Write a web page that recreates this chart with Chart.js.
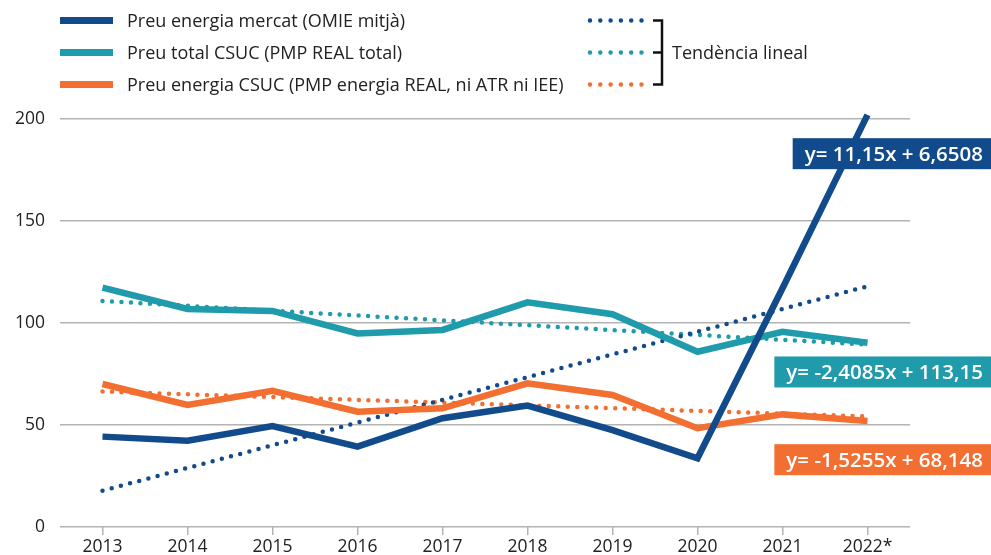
<!DOCTYPE html>
<html>
<head>
<meta charset="utf-8">
<script src="https://cdn.jsdelivr.net/npm/chart.js@4"></script>
<style>
  body { margin: 0; background: #fff; }
  #wrap { width: 991px; height: 555px; position: relative; }
</style>
</head>
<body>
<div id="wrap"><canvas id="preusChart"></canvas></div>
<script>
const years = ["2013", "2014", "2015", "2016", "2017", "2018", "2019", "2020", "2021", "2022*"];

const omieMitja = [44.3, 42.3, 49.5, 39.4, 53.3, 59.5, 47.5, 33.7, 117, 202];
const csucTotal = [117.3, 106.9, 105.9, 94.9, 96.6, 110.1, 104.3, 85.9, 95.7, 90.3];
const csucEnergia = [70.1, 59.8, 66.8, 56.5, 58.2, 70.4, 64.7, 48.4, 55.2, 52.0];

// trend lines: value read at 2013 and at 2022*, the rest left empty
const omieTrend = [17.8, null, null, null, null, null, null, null, null, 118];
const totalTrend = [110.8, null, null, null, null, null, null, null, null, 89.4];
const energiaTrend = [66.4, null, null, null, null, null, null, null, null, 54.2];

const seriesNames = [
    "Preu energia mercat (OMIE mitjà)",
    "Preu total CSUC (PMP REAL total)",
    "Preu energia CSUC (PMP energia REAL, ni ATR ni IEE)"
];
const trendLabel = "Tendència lineal";
const equations = ["y= 11,15x + 6,6508", "y= -2,4085x + 113,15", "y= -1,5255x + 68,148"];
const equationAt = [183, 76, 33];

const colors = ["#124b8b", "#1f9bab", "#f26f31"];
const textColor = "#222222";
const gridColor = "#b3b3b3";
const fontFamily = "'Open Sans', 'Noto Sans', sans-serif";

function solid(data, color) {
    return {
        data: data,
        borderColor: color,
        borderWidth: 6.5,
        pointRadius: 0,
        tension: 0,
        clip: false,
        borderJoinStyle: "miter"
    };
}

function dotted(data, color) {
    return {
        data: data,
        borderColor: color,
        borderWidth: 4.5,
        borderDash: [0, 9.5],
        borderCapStyle: "round",
        pointRadius: 0,
        spanGaps: true,
        clip: false
    };
}

const legendPlugin = {
    id: "customLegend",
    afterDraw(chart) {
        const ctx = chart.ctx;
        const rows = [20.5, 52.5, 84.5];
        ctx.save();
        ctx.font = "18px " + fontFamily;
        ctx.textBaseline = "middle";
        rows.forEach((y, i) => {
            ctx.fillStyle = colors[i];
            ctx.fillRect(60, y - 3.5, 53, 7);
            ctx.fillStyle = textColor;
            ctx.fillText(seriesNames[i], 127, y + 1);

            ctx.beginPath();
            ctx.strokeStyle = colors[i];
            ctx.lineWidth = 4.5;
            ctx.lineCap = "round";
            ctx.setLineDash([0, 10.3]);
            ctx.moveTo(590, y);
            ctx.lineTo(642, y);
            ctx.stroke();
        });

        ctx.setLineDash([]);
        ctx.lineCap = "butt";
        ctx.strokeStyle = "#111";
        ctx.lineWidth = 2.5;
        ctx.beginPath();
        ctx.moveTo(653, rows[0]);
        ctx.lineTo(662, rows[0]);
        ctx.lineTo(662, rows[2]);
        ctx.lineTo(653, rows[2]);
        ctx.moveTo(653, rows[1]);
        ctx.lineTo(662, rows[1]);
        ctx.stroke();

        ctx.fillStyle = textColor;
        ctx.fillText(trendLabel, 672, rows[1] + 1);
        ctx.restore();
    }
};

const equationPlugin = {
    id: "equations",
    afterDatasetsDraw(chart) {
        const ctx = chart.ctx;
        const yScale = chart.scales.y;
        ctx.save();
        ctx.font = "600 20.5px " + fontFamily;
        ctx.textBaseline = "middle";
        equations.forEach((txt, i) => {
            const cy = yScale.getPixelForValue(equationAt[i]);
            const w = ctx.measureText(txt).width;
            const right = 983;
            const left = right - w - 12;
            ctx.fillStyle = colors[i];
            ctx.fillRect(left, cy - 15.5, chart.width - left, 31);
            ctx.fillStyle = "#ffffff";
            ctx.textAlign = "right";
            ctx.fillText(txt, right, cy + 1);
        });
        ctx.restore();
    }
};

const ctx = document.getElementById("preusChart").getContext("2d");
const preusChart = new Chart(ctx, {
    type: "line",
    data: {
        labels: years,
        datasets: [
            solid(omieMitja, colors[0]),
            solid(csucTotal, colors[1]),
            solid(csucEnergia, colors[2]),
            dotted(omieTrend, colors[0]),
            dotted(totalTrend, colors[1]),
            dotted(energiaTrend, colors[2])
        ]
    },
    options: {
        responsive: true,
        maintainAspectRatio: false,
        animation: false,
        layout: { padding: { top: 119, right: 81, left: 0, bottom: 0 } },
        plugins: {
            legend: { display: false },
            tooltip: { enabled: false }
        },
        scales: {
            x: {
                offset: true,
                grid: {
                    drawOnChartArea: false,
                    drawTicks: true,
                    tickLength: 8,
                    color: gridColor,
                    lineWidth: 1.5
                },
                border: { display: false },
                ticks: {
                    color: textColor,
                    font: { family: fontFamily, size: 17.5 },
                    padding: 2,
                    maxRotation: 0
                },
                afterFit(scale) { scale.height = 28; }
            },
            y: {
                min: 0,
                max: 200,
                ticks: {
                    stepSize: 50,
                    color: textColor,
                    font: { family: fontFamily, size: 17.5 },
                    padding: 15
                },
                grid: {
                    color: gridColor,
                    lineWidth: 1.5,
                    drawTicks: false
                },
                border: { display: false },
                afterFit(scale) { scale.width = 60; }
            }
        }
    },
    plugins: [legendPlugin, equationPlugin]
});
</script>
</body>
</html>
